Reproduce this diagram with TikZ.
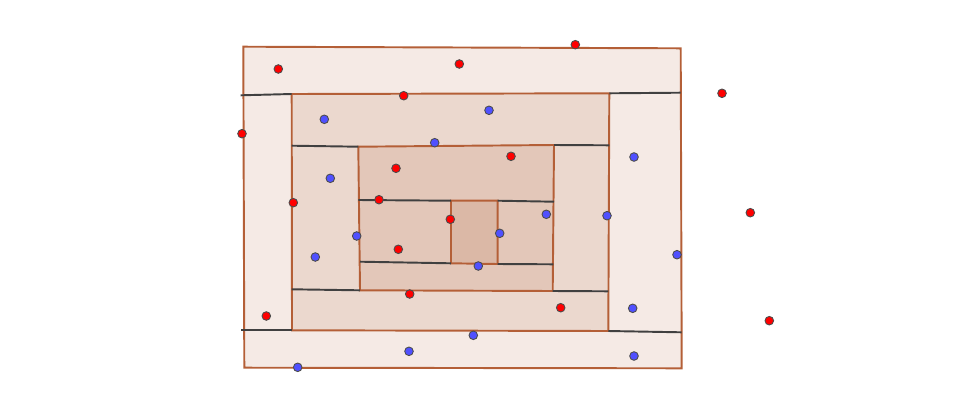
\documentclass[tikz,border=0pt]{standalone}
\usepackage{xcolor}
\usepackage{tikz}
\usetikzlibrary{calc}
\definecolor{ringbrown}{RGB}{153,51,0}
\definecolor{edgebrown}{RGB}{180,95,55}
\definecolor{ptred}{RGB}{255,0,0}
\definecolor{ptblue}{RGB}{80,80,255}
\tikzset{
  ring/.style={draw=edgebrown, line width=1.1pt, fill=ringbrown, fill opacity=0.1, draw opacity=1},
  cut/.style={draw=black!75, line width=1.1pt},
  redpt/.style={fill=ptred, draw=black!70, line width=0.5pt},
  bluept/.style={fill=ptblue, draw=black!70, line width=0.5pt}
}

\begin{document}
\begin{tikzpicture}[x=0.02cm, y=-0.02cm]
    \useasboundingbox (0,0) rectangle (973,409);
    % Rings
    \coordinate (A1) at (243.3,46.7); \coordinate (B1) at (680.7,48.3);
    \coordinate (C1) at (681.7,368.3); \coordinate (D1) at (244.3,367.7);
    \coordinate (A2) at (291.7,94.0); \coordinate (B2) at (609.3,93.3);
    \coordinate (C2) at (608.3,331.0); \coordinate (D2) at (292.0,330.3);
    \coordinate (A3) at (358.3,146.7); \coordinate (B3) at (554.0,145.0);
    \coordinate (C3) at (552.7,291.0); \coordinate (D3) at (360.0,290.3);
    \coordinate (A4) at (451.0,200.7); \coordinate (B4) at (497.7,200.7);
    \coordinate (C4) at (497.7,264.0); \coordinate (D4) at (451.0,263.3);
    \foreach \r in {1,2,3,4} {
        \draw[ring] (A\r) -- (B\r) -- (C\r) -- (D\r) -- cycle;
    }
    % Cuts
    \coordinate (L1t) at (240.7,95.3); \coordinate (R1t) at (680.7,92.7);
    \coordinate (L1b) at (241.0,330.3); \coordinate (R1b) at (681.7,332.3);
    \coordinate (L2t) at (291.7,145.7); \coordinate (R2t) at (609.3,145.3);
    \coordinate (L2b) at (291.7,289.3); \coordinate (R2b) at (608.3,291.3);
    \coordinate (L3t) at (358.3,200.0); \coordinate (R3t) at (554.0,201.7);
    \coordinate (L3b) at (360.0,261.7); \coordinate (R3b) at (553.3,264.3);
    \draw[cut] (L1t) -- (A2);  \draw[cut] (B2) -- (R1t);
    \draw[cut] (L1b) -- (D2);  \draw[cut] (C2) -- (R1b);
    \draw[cut] (L2t) -- (A3);  \draw[cut] (B3) -- (R2t);
    \draw[cut] (L2b) -- (D3);  \draw[cut] (C3) -- (R2b);
    \draw[cut] (L3t) -- (A4);  \draw[cut] (B4) -- (R3t);
    \draw[cut] (L3b) -- (D4);  \draw[cut] (C4) -- (R3b);
    % Red points
    \foreach \x/\y in {278.3/69,459.3/64,403.7/95.7,242/133.7,575.3/44.7,722/93.3,
        511/156.3,396/168.3,293.3/202.7,379/199.7,450.3/219.3,398.3/249.3,
        750.3/212.7,409.7/294,266.3/316,560.7/307.7,769.3/320.7} {
        \draw[redpt] (\x,\y) circle[radius=4.3];
    }
    % Blue points
    \foreach \x/\y in {324.3/119.3,489/110.3,434.7/142.7,634/157,330.3/178.3,
        356.7/236,315.3/257,546.3/214.3,607/215.7,499.7/233.3,478.3/266,
        677/254.7,473.3/335.3,409/351.3,297.7/367.3,632.7/308.3,634/356} {
        \draw[bluept] (\x,\y) circle[radius=4.3];
    }
\end{tikzpicture}
\end{document}
